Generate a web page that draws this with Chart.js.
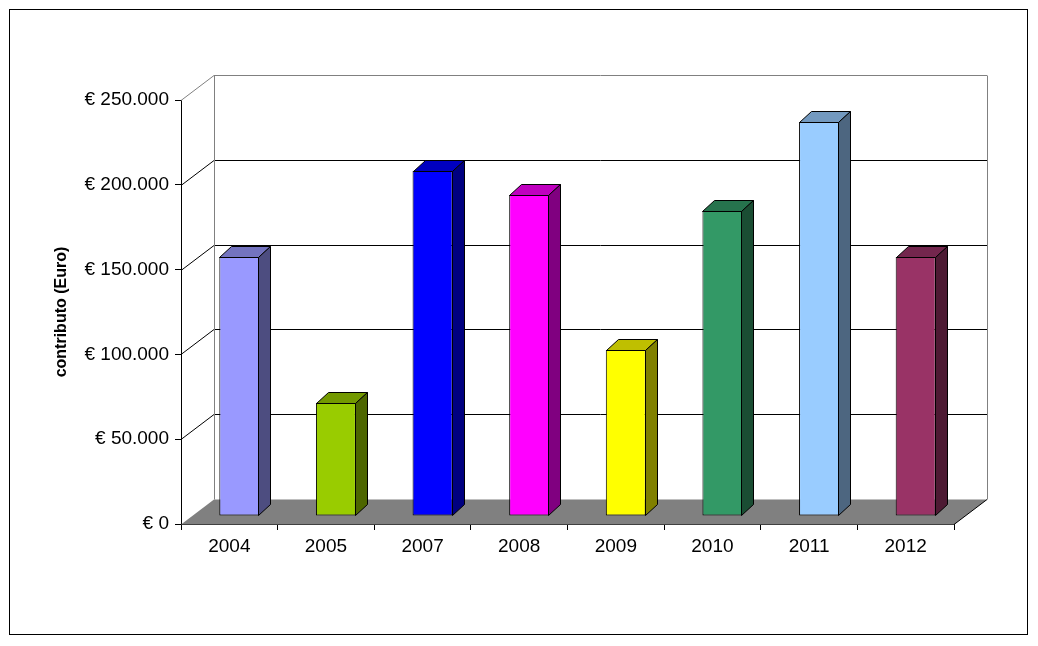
<!DOCTYPE html>
<html>
<head>
<meta charset="utf-8">
<script src="https://cdn.jsdelivr.net/npm/chart.js@4"></script>
<style>
  html, body { margin: 0; padding: 0; background: #fff; }
  canvas { display: block; }
</style>
</head>
<body>
<canvas id="chart" width="1038" height="646"></canvas>
<script>
const years = ['2004', '2005', '2007', '2008', '2009', '2010', '2011', '2012'];
const contributo = [152700, 66800, 203600, 189300, 97900, 179800, 232300, 152700];
const barColors = ['#9999FF', '#99CC00', '#0000FF', '#FF00FF', '#FFFF00', '#339966', '#99CCFF', '#993366'];
const yTicks = [0, 50000, 100000, 150000, 200000, 250000];

// 3d offsets
const WALL_DX = 33, WALL_DY = -25;
const BAR_DX = 10, BAR_DY = -8;
const SIDE_DX = 12, SIDE_DY = -11;

const shade = (hex, f) => {
  const n = parseInt(hex.slice(1), 16);
  const r = Math.round(((n >> 16) & 255) * f);
  const g = Math.round(((n >> 8) & 255) * f);
  const b = Math.round((n & 255) * f);
  return `rgb(${r},${g},${b})`;
};

const formatEuro = (v) => '€ ' + String(v).replace(/\B(?=(\d{3})+(?!\d))/g, '.');

const poly = (ctx, pts, fill) => {
  ctx.beginPath();
  ctx.moveTo(pts[0][0], pts[0][1]);
  pts.slice(1).forEach(([x, y]) => ctx.lineTo(x, y));
  ctx.closePath();
  if (fill) {
    ctx.fillStyle = fill;
    ctx.fill();
  }
  ctx.stroke();
};

const box3d = {
  id: 'box3d',
  beforeDatasetsDraw(chart) {
    const { ctx, chartArea: a, scales: { y } } = chart;
    const bottom = a.bottom + 0.5;
    ctx.save();
    ctx.lineWidth = 1;

    // floor
    ctx.fillStyle = '#808080';
    ctx.beginPath();
    ctx.moveTo(a.left, bottom);
    ctx.lineTo(a.right, bottom);
    ctx.lineTo(a.right + WALL_DX, bottom + WALL_DY);
    ctx.lineTo(a.left + WALL_DX, bottom + WALL_DY);
    ctx.closePath();
    ctx.fill();
    ctx.strokeStyle = '#000';
    ctx.beginPath();
    ctx.moveTo(a.right, bottom);
    ctx.lineTo(a.right + WALL_DX, bottom + WALL_DY);
    ctx.stroke();

    // back wall and side wall gridlines
    yTicks.forEach((v) => {
      if (v === 0) return;
      const py = Math.round(y.getPixelForValue(v)) + 0.5;
      ctx.strokeStyle = v === y.max ? '#808080' : '#000';
      ctx.beginPath();
      ctx.moveTo(a.left, py);
      ctx.lineTo(a.left + WALL_DX, py + WALL_DY);
      ctx.lineTo(a.right + WALL_DX, py + WALL_DY);
      ctx.stroke();
    });

    // wall edges
    const top = Math.round(y.getPixelForValue(y.max)) + 0.5 + WALL_DY;
    ctx.strokeStyle = '#808080';
    [a.left + WALL_DX + 0.5, a.right + WALL_DX + 0.5].forEach((x) => {
      ctx.beginPath();
      ctx.moveTo(x, top);
      ctx.lineTo(x, bottom + WALL_DY);
      ctx.stroke();
    });
    ctx.restore();

    ctx.save();
    ctx.translate(BAR_DX, BAR_DY);
  },
  afterDatasetsDraw(chart) {
    const { ctx } = chart;
    ctx.restore();
    ctx.save();
    ctx.strokeStyle = '#000';
    ctx.lineWidth = 1;
    chart.getDatasetMeta(0).data.forEach((bar, i) => {
      const { x, y, base, width } = bar.getProps(['x', 'y', 'base', 'width'], true);
      const L = Math.round(x - width / 2 + BAR_DX) + 0.5;
      const R = Math.round(x + width / 2 + BAR_DX) - 0.5;
      const T = Math.round(y + BAR_DY) + 0.5;
      const B = Math.round(base + BAR_DY) - 0.5;
      poly(ctx, [[L, T], [L + SIDE_DX, T + SIDE_DY], [R + SIDE_DX, T + SIDE_DY], [R, T]], shade(barColors[i], 0.75));
      poly(ctx, [[R, T], [R + SIDE_DX, T + SIDE_DY], [R + SIDE_DX, B + SIDE_DY], [R, B]], shade(barColors[i], 0.5));
    });
    ctx.restore();
  },
  afterDraw(chart) {
    const { ctx } = chart;
    ctx.save();
    ctx.strokeStyle = '#000';
    ctx.lineWidth = 1;
    ctx.strokeRect(9.5, 9.5, 1018, 625);
    ctx.restore();
  }
};

Chart.defaults.font.family = '"Liberation Sans", Arial, sans-serif';
Chart.defaults.color = '#000';

new Chart(document.getElementById('chart'), {
  type: 'bar',
  data: {
    labels: years,
    datasets: [{
      data: contributo,
      backgroundColor: barColors,
      borderColor: '#000',
      borderWidth: 1,
      borderSkipped: false,
      categoryPercentage: 1,
      barPercentage: 0.414,
    }],
  },
  options: {
    responsive: false,
    animation: false,
    events: [],
    layout: {
      padding: { left: 0, top: 100, right: 84, bottom: 82 },
    },
    plugins: {
      legend: { display: false },
      tooltip: { enabled: false },
    },
    scales: {
      x: {
        grid: { drawOnChartArea: false, tickLength: 6, color: '#000', offset: true },
        border: { color: '#000' },
        ticks: { font: { size: 19 }, padding: 5 },
        afterFit: (s) => { s.height = 40; },
      },
      y: {
        min: 0,
        max: 250000,
        afterBuildTicks: (s) => { s.ticks = yTicks.map((value) => ({ value })); },
        grid: { drawOnChartArea: false, tickLength: 6, color: '#000' },
        border: { color: '#000' },
        ticks: { font: { size: 19 }, padding: 6, callback: (v) => formatEuro(v) },
        title: {
          display: true,
          text: 'contributo (Euro)',
          font: { size: 16, weight: 'bold' },
          padding: { top: 52, bottom: 0 },
        },
        afterFit: (s) => { s.width = 181; },
      },
    },
  },
  plugins: [box3d],
});
</script>
</body>
</html>
